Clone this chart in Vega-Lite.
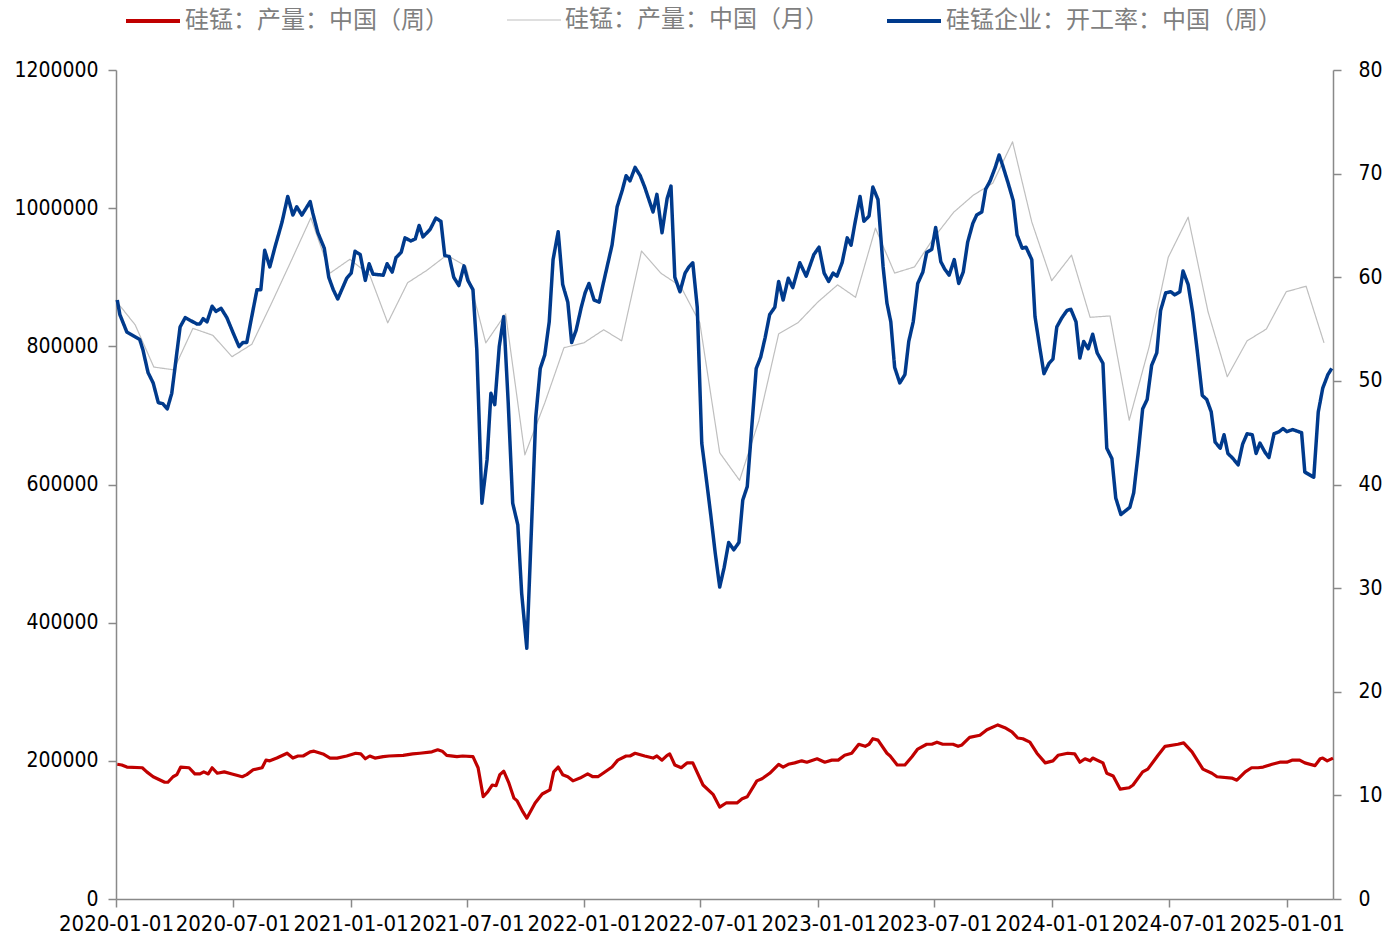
{
  "$schema": "https://vega.github.io/schema/vega-lite/v6.json",
  "width": 1217,
  "height": 829,
  "autosize": {"type": "none"},
  "padding": {"left": 116, "top": 70, "right": 58, "bottom": 38},
  "background": "white",
  "config": {
    "view": {"stroke": null},
    "axis": {
      "grid": false,
      "domainColor": "#898989",
      "domainWidth": 1.5,
      "tickColor": "#898989",
      "tickWidth": 1.5,
      "tickSize": 8,
      "labelColor": "#000000",
      "labelFont": "DejaVu Sans Condensed, DejaVu Sans, sans-serif",
      "labelFontSize": 21,
      "title": null
    },
    "legend": {
      "orient": "none",
      "direction": "horizontal",
      "title": null,
      "symbolType": "stroke",
      "symbolSize": 2916,
      "labelFont": "Noto Sans CJK SC",
      "labelFontSize": 24,
      "labelColor": "#7F7F7F",
      "labelLimit": 500,
      "labelOffset": 3,
      "padding": 0
    },
    "line": {"strokeJoin": "round", "strokeCap": "butt"}
  },
  "datasets": {
    "w": [
      {"d":"2020-01-03","v":195000},{"d":"2020-01-10","v":194000},{"d":"2020-01-18","v":191000},{"d":"2020-02-11","v":190000},{"d":"2020-02-18","v":184000},{"d":"2020-02-28","v":177000},{"d":"2020-03-17","v":169000},{"d":"2020-03-22","v":169000},{"d":"2020-03-30","v":177000},{"d":"2020-04-05","v":180000},{"d":"2020-04-11","v":191000},{"d":"2020-04-24","v":190000},{"d":"2020-05-03","v":181000},{"d":"2020-05-11","v":181000},{"d":"2020-05-17","v":184000},{"d":"2020-05-24","v":181000},{"d":"2020-05-30","v":190000},{"d":"2020-06-07","v":182000},{"d":"2020-06-18","v":184000},{"d":"2020-06-30","v":181000},{"d":"2020-07-16","v":177000},{"d":"2020-07-23","v":180000},{"d":"2020-08-02","v":187000},{"d":"2020-08-16","v":190000},{"d":"2020-08-22","v":201000},{"d":"2020-08-28","v":200000},{"d":"2020-09-08","v":204000},{"d":"2020-09-24","v":211000},{"d":"2020-10-03","v":204000},{"d":"2020-10-11","v":207000},{"d":"2020-10-19","v":207000},{"d":"2020-10-30","v":213000},{"d":"2020-11-05","v":214000},{"d":"2020-11-19","v":210000},{"d":"2020-11-30","v":204000},{"d":"2020-12-11","v":204000},{"d":"2020-12-26","v":207000},
      {"d":"2021-01-09","v":211000},{"d":"2021-01-17","v":210000},{"d":"2021-01-24","v":203000},{"d":"2021-01-31","v":207000},{"d":"2021-02-08","v":204000},{"d":"2021-02-21","v":206000},{"d":"2021-03-02","v":207000},{"d":"2021-03-24","v":208000},{"d":"2021-04-08","v":210000},{"d":"2021-04-19","v":211000},{"d":"2021-05-08","v":213000},{"d":"2021-05-17","v":216000},{"d":"2021-05-24","v":214000},{"d":"2021-05-31","v":208000},{"d":"2021-06-16","v":206000},{"d":"2021-06-25","v":207000},{"d":"2021-07-11","v":206000},{"d":"2021-07-19","v":190000},{"d":"2021-07-27","v":148000},{"d":"2021-08-03","v":155000},{"d":"2021-08-10","v":165000},{"d":"2021-08-16","v":164000},{"d":"2021-08-22","v":180000},{"d":"2021-08-28","v":185000},{"d":"2021-09-05","v":168000},{"d":"2021-09-13","v":146000},{"d":"2021-09-18","v":142000},{"d":"2021-09-27","v":126000},{"d":"2021-10-03","v":117000},{"d":"2021-10-16","v":139000},{"d":"2021-10-27","v":152000},{"d":"2021-11-08","v":158000},{"d":"2021-11-14","v":184000},{"d":"2021-11-21","v":191000},{"d":"2021-11-28","v":180000},{"d":"2021-12-06","v":177000},{"d":"2021-12-14","v":171000},{"d":"2021-12-25","v":175000},
      {"d":"2022-01-06","v":181000},{"d":"2022-01-14","v":177000},{"d":"2022-01-22","v":177000},{"d":"2022-01-30","v":182000},{"d":"2022-02-13","v":191000},{"d":"2022-02-22","v":201000},{"d":"2022-03-07","v":207000},{"d":"2022-03-13","v":207000},{"d":"2022-03-21","v":211000},{"d":"2022-04-05","v":207000},{"d":"2022-04-18","v":204000},{"d":"2022-04-24","v":207000},{"d":"2022-05-02","v":201000},{"d":"2022-05-10","v":208000},{"d":"2022-05-14","v":210000},{"d":"2022-05-22","v":194000},{"d":"2022-06-01","v":190000},{"d":"2022-06-10","v":197000},{"d":"2022-06-19","v":197000},{"d":"2022-07-05","v":165000},{"d":"2022-07-21","v":151000},{"d":"2022-07-31","v":133000},{"d":"2022-08-10","v":139000},{"d":"2022-08-27","v":139000},{"d":"2022-09-04","v":145000},{"d":"2022-09-12","v":148000},{"d":"2022-09-27","v":171000},{"d":"2022-10-05","v":174000},{"d":"2022-10-17","v":182000},{"d":"2022-10-31","v":195000},{"d":"2022-11-07","v":191000},{"d":"2022-11-15","v":195000},{"d":"2022-11-25","v":197000},{"d":"2022-12-06","v":200000},{"d":"2022-12-14","v":198000},{"d":"2022-12-30","v":203000},
      {"d":"2023-01-11","v":198000},{"d":"2023-01-22","v":201000},{"d":"2023-02-01","v":201000},{"d":"2023-02-11","v":208000},{"d":"2023-02-22","v":211000},{"d":"2023-03-05","v":224000},{"d":"2023-03-15","v":221000},{"d":"2023-03-21","v":224000},{"d":"2023-03-27","v":232000},{"d":"2023-04-04","v":230000},{"d":"2023-04-18","v":211000},{"d":"2023-04-23","v":207000},{"d":"2023-05-04","v":194000},{"d":"2023-05-16","v":194000},{"d":"2023-05-27","v":206000},{"d":"2023-06-05","v":217000},{"d":"2023-06-19","v":224000},{"d":"2023-06-27","v":224000},{"d":"2023-07-05","v":227000},{"d":"2023-07-14","v":224000},{"d":"2023-07-30","v":224000},{"d":"2023-08-07","v":221000},{"d":"2023-08-13","v":223000},{"d":"2023-08-25","v":234000},{"d":"2023-09-10","v":237000},{"d":"2023-09-21","v":245000},{"d":"2023-10-08","v":252000},{"d":"2023-10-19","v":248000},{"d":"2023-10-30","v":242000},{"d":"2023-11-08","v":233000},{"d":"2023-11-16","v":232000},{"d":"2023-11-27","v":227000},{"d":"2023-12-08","v":211000},{"d":"2023-12-21","v":197000},
      {"d":"2024-01-02","v":200000},{"d":"2024-01-10","v":208000},{"d":"2024-01-25","v":211000},{"d":"2024-02-05","v":210000},{"d":"2024-02-13","v":198000},{"d":"2024-02-21","v":203000},{"d":"2024-02-29","v":200000},{"d":"2024-03-04","v":204000},{"d":"2024-03-20","v":197000},{"d":"2024-03-26","v":182000},{"d":"2024-04-05","v":178000},{"d":"2024-04-16","v":159000},{"d":"2024-04-30","v":161000},{"d":"2024-05-06","v":165000},{"d":"2024-05-21","v":184000},{"d":"2024-05-29","v":188000},{"d":"2024-06-14","v":208000},{"d":"2024-06-25","v":221000},{"d":"2024-07-15","v":224000},{"d":"2024-07-24","v":226000},{"d":"2024-08-06","v":213000},{"d":"2024-08-23","v":188000},{"d":"2024-09-06","v":182000},{"d":"2024-09-14","v":177000},{"d":"2024-10-07","v":175000},{"d":"2024-10-15","v":172000},{"d":"2024-10-28","v":184000},{"d":"2024-11-07","v":190000},{"d":"2024-11-17","v":190000},{"d":"2024-11-25","v":191000},{"d":"2024-12-09","v":195000},{"d":"2024-12-21","v":198000},
      {"d":"2025-01-01","v":198000},{"d":"2025-01-09","v":201000},{"d":"2025-01-21","v":201000},{"d":"2025-01-29","v":197000},{"d":"2025-02-14","v":193000},{"d":"2025-02-22","v":203000},{"d":"2025-02-26","v":204000},{"d":"2025-03-05","v":200000},{"d":"2025-03-14","v":204000}
    ],
    "m": [
      {"d":"2019-12-31","v":867000},{"d":"2020-01-31","v":831000},{"d":"2020-02-29","v":770000},{"d":"2020-03-31","v":766000},{"d":"2020-04-30","v":826000},{"d":"2020-05-31","v":816000},{"d":"2020-06-30","v":785000},{"d":"2020-07-31","v":803000},{"d":"2020-08-31","v":863000},{"d":"2020-09-30","v":923000},{"d":"2020-10-31","v":986000},{"d":"2020-11-30","v":906000},{"d":"2020-12-31","v":926000},
      {"d":"2021-01-31","v":903000},{"d":"2021-02-28","v":834000},{"d":"2021-03-31","v":892000},{"d":"2021-04-30","v":910000},{"d":"2021-05-31","v":932000},{"d":"2021-06-30","v":916000},{"d":"2021-07-31","v":805000},{"d":"2021-08-31","v":847000},{"d":"2021-09-30","v":643000},{"d":"2021-10-31","v":718000},{"d":"2021-11-30","v":798000},{"d":"2021-12-31","v":805000},
      {"d":"2022-01-31","v":824000},{"d":"2022-02-28","v":808000},{"d":"2022-03-31","v":938000},{"d":"2022-04-30","v":906000},{"d":"2022-05-31","v":887000},{"d":"2022-06-30","v":834000},{"d":"2022-07-31","v":646000},{"d":"2022-08-31","v":606000},{"d":"2022-09-30","v":692000},{"d":"2022-10-31","v":818000},{"d":"2022-11-30","v":834000},{"d":"2022-12-31","v":864000},
      {"d":"2023-01-31","v":889000},{"d":"2023-02-28","v":871000},{"d":"2023-03-31","v":971000},{"d":"2023-04-30","v":906000},{"d":"2023-05-31","v":915000},{"d":"2023-06-30","v":957000},{"d":"2023-07-31","v":994000},{"d":"2023-08-31","v":1019000},{"d":"2023-09-30","v":1036000},{"d":"2023-10-31","v":1096000},{"d":"2023-11-30","v":980000},{"d":"2023-12-31","v":895000},
      {"d":"2024-01-31","v":932000},{"d":"2024-02-29","v":842000},{"d":"2024-03-31","v":844000},{"d":"2024-04-30","v":693000},{"d":"2024-05-31","v":799000},{"d":"2024-06-30","v":929000},{"d":"2024-07-31","v":987000},{"d":"2024-08-31","v":850000},{"d":"2024-09-30","v":756000},{"d":"2024-10-31","v":808000},{"d":"2024-11-30","v":825000},{"d":"2024-12-31","v":879000},
      {"d":"2025-01-31","v":887000},{"d":"2025-02-28","v":805000}
    ],
    "r": [
      {"d":"2020-01-03","v":57.8},{"d":"2020-01-07","v":56.4},{"d":"2020-01-18","v":54.7},{"d":"2020-02-07","v":54.0},{"d":"2020-02-12","v":53.0},{"d":"2020-02-20","v":50.8},{"d":"2020-02-28","v":49.8},{"d":"2020-03-07","v":47.9},{"d":"2020-03-14","v":47.8},{"d":"2020-03-21","v":47.3},{"d":"2020-03-28","v":48.8},{"d":"2020-04-10","v":55.2},{"d":"2020-04-18","v":56.1},{"d":"2020-05-06","v":55.5},{"d":"2020-05-11","v":55.5},{"d":"2020-05-16","v":56.0},{"d":"2020-05-22","v":55.7},{"d":"2020-05-30","v":57.2},{"d":"2020-06-05","v":56.7},{"d":"2020-06-13","v":57.0},{"d":"2020-06-22","v":56.1},{"d":"2020-07-02","v":54.6},{"d":"2020-07-11","v":53.3},{"d":"2020-07-17","v":53.7},{"d":"2020-07-23","v":53.7},{"d":"2020-08-08","v":58.8},{"d":"2020-08-14","v":58.8},{"d":"2020-08-20","v":62.6},{"d":"2020-08-28","v":61.0},{"d":"2020-09-05","v":62.9},{"d":"2020-09-16","v":65.3},{"d":"2020-09-25","v":67.8},{"d":"2020-10-03","v":66.0},{"d":"2020-10-09","v":66.8},{"d":"2020-10-17","v":66.0},{"d":"2020-10-30","v":67.3},{"d":"2020-11-03","v":66.2},{"d":"2020-11-11","v":64.3},{"d":"2020-11-21","v":62.8},{"d":"2020-11-28","v":60.0},{"d":"2020-12-05","v":58.8},{"d":"2020-12-12","v":57.9},{"d":"2020-12-26","v":59.9},
      {"d":"2021-01-02","v":60.4},{"d":"2021-01-08","v":62.5},{"d":"2021-01-16","v":62.2},{"d":"2021-01-24","v":59.7},{"d":"2021-01-30","v":61.3},{"d":"2021-02-05","v":60.3},{"d":"2021-02-21","v":60.2},{"d":"2021-02-27","v":61.3},{"d":"2021-03-07","v":60.5},{"d":"2021-03-13","v":61.9},{"d":"2021-03-21","v":62.4},{"d":"2021-03-27","v":63.8},{"d":"2021-04-05","v":63.5},{"d":"2021-04-12","v":63.7},{"d":"2021-04-18","v":65.0},{"d":"2021-04-24","v":63.9},{"d":"2021-05-05","v":64.6},{"d":"2021-05-14","v":65.7},{"d":"2021-05-22","v":65.4},{"d":"2021-05-28","v":62.1},{"d":"2021-06-04","v":62.0},{"d":"2021-06-11","v":60.0},{"d":"2021-06-19","v":59.2},{"d":"2021-06-27","v":61.1},{"d":"2021-07-03","v":59.7},{"d":"2021-07-11","v":58.8},{"d":"2021-07-17","v":53.0},{"d":"2021-07-25","v":38.2},{"d":"2021-08-02","v":42.4},{"d":"2021-08-08","v":48.8},{"d":"2021-08-14","v":47.7},{"d":"2021-08-21","v":53.3},{"d":"2021-08-28","v":56.2},{"d":"2021-09-04","v":47.9},{"d":"2021-09-11","v":38.2},{"d":"2021-09-19","v":36.1},{"d":"2021-09-25","v":29.5},{"d":"2021-10-03","v":24.2},{"d":"2021-10-11","v":36.9},{"d":"2021-10-17","v":46.5},{"d":"2021-10-24","v":51.2},{"d":"2021-10-31","v":52.5},{"d":"2021-11-07","v":55.7},{"d":"2021-11-13","v":61.7},{"d":"2021-11-21","v":64.4},{"d":"2021-11-28","v":59.3},{"d":"2021-12-06","v":57.6},{"d":"2021-12-12","v":53.7},{"d":"2021-12-19","v":54.9},{"d":"2021-12-27","v":57.1},
      {"d":"2022-01-02","v":58.5},{"d":"2022-01-08","v":59.4},{"d":"2022-01-16","v":57.8},{"d":"2022-01-24","v":57.6},{"d":"2022-01-30","v":59.3},{"d":"2022-02-13","v":63.1},{"d":"2022-02-21","v":66.8},{"d":"2022-03-01","v":68.4},{"d":"2022-03-07","v":69.8},{"d":"2022-03-13","v":69.3},{"d":"2022-03-21","v":70.6},{"d":"2022-03-29","v":69.8},{"d":"2022-04-05","v":68.7},{"d":"2022-04-18","v":66.3},{"d":"2022-04-24","v":68.0},{"d":"2022-05-02","v":64.3},{"d":"2022-05-10","v":67.6},{"d":"2022-05-16","v":68.8},{"d":"2022-05-22","v":60.0},{"d":"2022-05-30","v":58.6},{"d":"2022-06-07","v":60.4},{"d":"2022-06-13","v":61.0},{"d":"2022-06-19","v":61.4},{"d":"2022-06-26","v":57.1},{"d":"2022-07-03","v":44.0},{"d":"2022-07-10","v":40.6},{"d":"2022-07-17","v":37.1},{"d":"2022-07-24","v":33.4},{"d":"2022-07-31","v":30.1},{"d":"2022-08-07","v":32.0},{"d":"2022-08-14","v":34.4},{"d":"2022-08-22","v":33.7},{"d":"2022-08-30","v":34.4},{"d":"2022-09-05","v":38.5},{"d":"2022-09-12","v":39.8},{"d":"2022-09-19","v":45.5},{"d":"2022-09-26","v":51.2},{"d":"2022-10-03","v":52.3},{"d":"2022-10-10","v":54.2},{"d":"2022-10-17","v":56.4},{"d":"2022-10-25","v":57.1},{"d":"2022-10-31","v":59.6},{"d":"2022-11-07","v":57.8},{"d":"2022-11-15","v":59.9},{"d":"2022-11-22","v":59.0},{"d":"2022-12-03","v":61.4},{"d":"2022-12-13","v":60.1},{"d":"2022-12-17","v":60.8},{"d":"2022-12-25","v":62.2},
      {"d":"2023-01-02","v":62.9},{"d":"2023-01-10","v":60.4},{"d":"2023-01-17","v":59.6},{"d":"2023-01-24","v":60.4},{"d":"2023-01-30","v":60.1},{"d":"2023-02-07","v":61.4},{"d":"2023-02-15","v":63.8},{"d":"2023-02-21","v":63.1},{"d":"2023-02-27","v":65.2},{"d":"2023-03-07","v":67.8},{"d":"2023-03-13","v":65.4},{"d":"2023-03-21","v":65.9},{"d":"2023-03-27","v":68.7},{"d":"2023-04-04","v":67.5},{"d":"2023-04-12","v":61.0},{"d":"2023-04-18","v":57.5},{"d":"2023-04-24","v":55.7},{"d":"2023-04-30","v":51.3},{"d":"2023-05-08","v":49.8},{"d":"2023-05-16","v":50.6},{"d":"2023-05-22","v":53.8},{"d":"2023-05-29","v":55.7},{"d":"2023-06-05","v":59.4},{"d":"2023-06-13","v":60.5},{"d":"2023-06-19","v":62.4},{"d":"2023-06-27","v":62.7},{"d":"2023-07-03","v":64.8},{"d":"2023-07-11","v":61.5},{"d":"2023-07-17","v":60.8},{"d":"2023-07-24","v":60.2},{"d":"2023-08-01","v":61.7},{"d":"2023-08-08","v":59.4},{"d":"2023-08-15","v":60.5},{"d":"2023-08-22","v":63.4},{"d":"2023-08-30","v":65.2},{"d":"2023-09-05","v":66.0},{"d":"2023-09-13","v":66.3},{"d":"2023-09-19","v":68.5},{"d":"2023-09-26","v":69.3},{"d":"2023-10-04","v":70.6},{"d":"2023-10-10","v":71.8},{"d":"2023-10-16","v":70.7},{"d":"2023-10-24","v":69.1},{"d":"2023-11-01","v":67.4},{"d":"2023-11-07","v":64.1},{"d":"2023-11-15","v":62.8},{"d":"2023-11-21","v":62.9},{"d":"2023-11-30","v":61.7},{"d":"2023-12-05","v":56.2},{"d":"2023-12-13","v":53.0},{"d":"2023-12-19","v":50.7},{"d":"2023-12-27","v":51.7},
      {"d":"2024-01-02","v":52.1},{"d":"2024-01-08","v":55.2},{"d":"2024-01-16","v":56.1},{"d":"2024-01-24","v":56.8},{"d":"2024-01-30","v":56.9},{"d":"2024-02-07","v":55.7},{"d":"2024-02-13","v":52.2},{"d":"2024-02-19","v":53.8},{"d":"2024-02-26","v":53.1},{"d":"2024-03-04","v":54.5},{"d":"2024-03-11","v":52.7},{"d":"2024-03-20","v":51.7},{"d":"2024-03-26","v":43.5},{"d":"2024-04-03","v":42.5},{"d":"2024-04-09","v":38.7},{"d":"2024-04-17","v":37.1},{"d":"2024-05-01","v":37.8},{"d":"2024-05-07","v":39.2},{"d":"2024-05-14","v":43.0},{"d":"2024-05-21","v":47.3},{"d":"2024-05-28","v":48.2},{"d":"2024-06-04","v":51.5},{"d":"2024-06-12","v":52.7},{"d":"2024-06-18","v":56.8},{"d":"2024-06-26","v":58.5},{"d":"2024-07-04","v":58.6},{"d":"2024-07-10","v":58.3},{"d":"2024-07-18","v":58.6},{"d":"2024-07-23","v":60.6},{"d":"2024-07-31","v":59.3},{"d":"2024-08-07","v":56.6},{"d":"2024-08-14","v":53.0},{"d":"2024-08-22","v":48.6},{"d":"2024-08-29","v":48.2},{"d":"2024-09-05","v":47.0},{"d":"2024-09-11","v":44.1},{"d":"2024-09-19","v":43.5},{"d":"2024-09-25","v":44.8},{"d":"2024-10-01","v":43.0},{"d":"2024-10-09","v":42.5},{"d":"2024-10-17","v":41.9},{"d":"2024-10-24","v":43.9},{"d":"2024-10-31","v":44.9},{"d":"2024-11-08","v":44.8},{"d":"2024-11-14","v":43.0},{"d":"2024-11-20","v":44.0},{"d":"2024-11-28","v":43.1},{"d":"2024-12-04","v":42.6},{"d":"2024-12-12","v":44.9},{"d":"2024-12-20","v":45.1},{"d":"2024-12-26","v":45.4},
      {"d":"2025-01-01","v":45.1},{"d":"2025-01-10","v":45.3},{"d":"2025-01-24","v":45.0},{"d":"2025-01-29","v":41.2},{"d":"2025-02-12","v":40.7},{"d":"2025-02-19","v":47.0},{"d":"2025-02-26","v":49.3},{"d":"2025-03-06","v":50.6},{"d":"2025-03-12","v":51.2}
    ]
  },
  "encoding": {
    "x": {
      "field": "d",
      "type": "temporal",
      "scale": {
        "type": "utc",
        "domain": [{"year": 2020, "month": 1, "date": 1, "utc": true}, {"year": 2025, "month": 3, "date": 14, "utc": true}]
      },
      "axis": {
        "values": [
          {"year": 2020, "month": 1, "date": 1, "utc": true},
          {"year": 2020, "month": 7, "date": 1, "utc": true},
          {"year": 2021, "month": 1, "date": 1, "utc": true},
          {"year": 2021, "month": 7, "date": 1, "utc": true},
          {"year": 2022, "month": 1, "date": 1, "utc": true},
          {"year": 2022, "month": 7, "date": 1, "utc": true},
          {"year": 2023, "month": 1, "date": 1, "utc": true},
          {"year": 2023, "month": 7, "date": 1, "utc": true},
          {"year": 2024, "month": 1, "date": 1, "utc": true},
          {"year": 2024, "month": 7, "date": 1, "utc": true},
          {"year": 2025, "month": 1, "date": 1, "utc": true}
        ],
        "format": "%Y-%m-%d",
        "labelFlush": false,
        "labelOverlap": false,
        "labelFontSize": 22,
        "labelPadding": 6
      }
    }
  },
  "layer": [
    {
      "layer": [
        {
          "data": {"name": "m"},
          "mark": {"type": "line", "color": "#BFBFBF", "strokeWidth": 1.2},
          "encoding": {
            "y": {"field": "v", "type": "quantitative", "scale": {"domain": [0, 1200000], "nice": false, "zero": true},
                  "axis": {"orient": "left", "values": [0, 200000, 400000, 600000, 800000, 1000000, 1200000], "format": "d", "labelPadding": 10}},
            "strokeDash": {"datum": "硅锰：产量：中国（月）", "type": "nominal",
                      "scale": {"domain": ["硅锰：产量：中国（月）"], "range": [[1, 0]]},
                      "legend": {"legendX": 390, "legendY": -78, "symbolStrokeColor": "#BFBFBF", "symbolStrokeWidth": 1.2}}
          }
        },
        {
          "data": {"name": "w"},
          "mark": {"type": "line", "strokeWidth": 3.2},
          "encoding": {
            "y": {"field": "v", "type": "quantitative"},
            "color": {"datum": "硅锰：产量：中国（周）", "type": "nominal",
                      "scale": {"domain": ["硅锰：产量：中国（周）"], "range": ["#C00000"]},
                      "legend": {"legendX": 8, "legendY": -78, "symbolStrokeWidth": 4}}
          }
        }
      ]
    },
    {
      "data": {"name": "r"},
      "mark": {"type": "line", "color": "#003A8C", "strokeWidth": 3.5},
      "encoding": {
        "y": {"field": "v", "type": "quantitative", "scale": {"domain": [0, 80], "nice": false},
              "axis": {"orient": "right", "values": [0, 10, 20, 30, 40, 50, 60, 70, 80], "labelPadding": 17}},
        "strokeDash": {"datum": "硅锰企业：开工率：中国（周）", "type": "nominal",
                  "scale": {"domain": ["硅锰企业：开工率：中国（周）"], "range": [[1, 0]]},
                  "legend": {"legendX": 769, "legendY": -78, "symbolStrokeColor": "#003A8C", "symbolStrokeWidth": 4}}
      }
    }
  ],
  "resolve": {"scale": {"y": "independent", "strokeDash": "independent"}, "legend": {"strokeDash": "independent"}}
}
